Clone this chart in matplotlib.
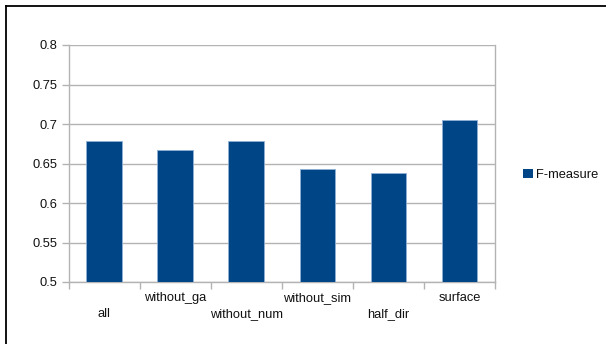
import matplotlib
matplotlib.use("Agg")
import matplotlib.pyplot as plt
from matplotlib.lines import Line2D
from matplotlib.patches import Patch
import matplotlib.transforms as mtransforms

categories = ["all", "without_ga", "without_num", "without_sim", "half_dir", "surface"]
f_measure = [0.678, 0.667, 0.678, 0.643, 0.638, 0.705]
series_name = "F-measure"
y_ticks = [0.5, 0.55, 0.6, 0.65, 0.7, 0.75, 0.8]
y_tick_labels = ["0.5", "0.55", "0.6", "0.65", "0.7", "0.75", "0.8"]

plt.rcParams["font.family"] = ["Liberation Sans", "DejaVu Sans"]
plt.rcParams["font.size"] = 9.3

bar_color = "#004586"
grid_color = "#b3b3b3"
text_color = "#111111"

fig = plt.figure(figsize=(6.06, 3.44), dpi=100)
fig.patch.set_facecolor("white")

# outer frame: top and left edges only
fig.add_artist(Line2D([5.5 / 606, 1.0], [1 - 5.5 / 344] * 2, transform=fig.transFigure,
                      color="black", lw=1.3))
fig.add_artist(Line2D([5.5 / 606] * 2, [0.0, 1 - 5.5 / 344], transform=fig.transFigure,
                      color="black", lw=1.3))

ax = fig.add_axes([68.5 / 606, 1 - 282 / 344, (495 - 68.5) / 606, (282 - 45) / 344])

x = list(range(len(categories)))
ax.bar(x, f_measure, width=0.5, color=bar_color, edgecolor="#8fb0d6", linewidth=0.6,
       zorder=3, label=series_name)

ax.set_xlim(-0.5, len(categories) - 0.5)
ax.set_ylim(y_ticks[0], y_ticks[-1])
ax.set_yticks(y_ticks)
ax.set_yticklabels(y_tick_labels, color=text_color)
ax.yaxis.grid(True, color=grid_color, lw=1.0, zorder=0)
ax.set_axisbelow(True)

# category boundaries as ticks, names drawn staggered underneath
ax.set_xticks([i - 0.5 for i in range(len(categories) + 1)])
ax.set_xticklabels([])
ax.tick_params(axis="x", direction="out", length=5, width=1, color=grid_color)
ax.tick_params(axis="y", direction="out", length=5, width=1, color=grid_color, pad=3)

trans = mtransforms.blended_transform_factory(ax.transData, ax.transAxes)
axes_h_px = 282 - 45
for i, name in enumerate(categories):
    offset = 32 if i % 2 == 0 else 16
    ax.text(i, -offset / axes_h_px, name, transform=trans, ha="center", va="center",
            color=text_color)

for side in ["top", "right", "left", "bottom"]:
    ax.spines[side].set_color(grid_color)
    ax.spines[side].set_linewidth(1.0)
ax.spines["top"].set_visible(False)

handle = Patch(facecolor=bar_color, edgecolor="none")
fig.legend([handle], [series_name], loc="center left",
           bbox_to_anchor=(523 / 606, 1 - 175 / 344), frameon=False,
           handlelength=0.75, handleheight=0.75, handletextpad=0.25,
           borderaxespad=0, borderpad=0, labelcolor=text_color)

fig.savefig("out.png", dpi=100)
